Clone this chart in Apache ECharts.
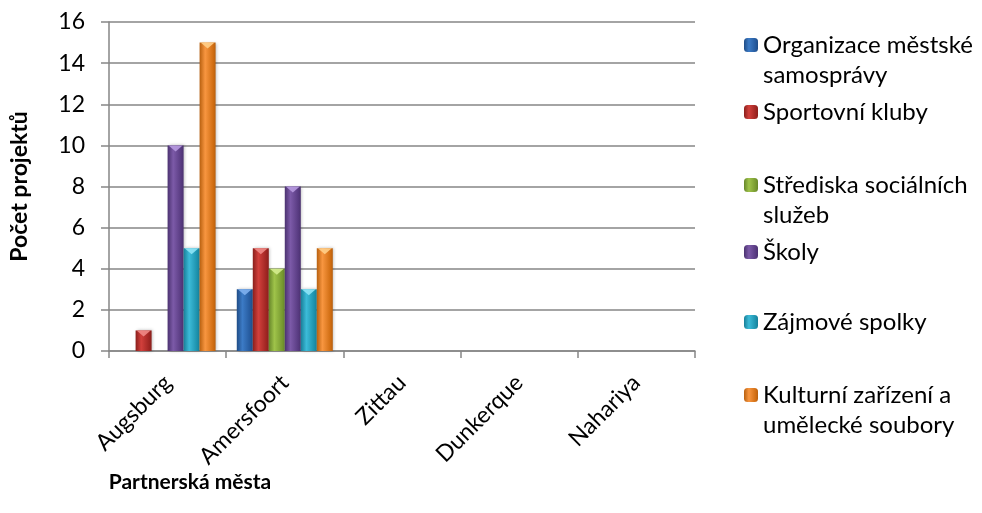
<!DOCTYPE html>
<html>
<head>
<meta charset="utf-8">
<script src="https://cdn.jsdelivr.net/npm/echarts@6/dist/echarts.min.js"></script>
<style>
html,body{margin:0;padding:0;background:#fff;}
#main{width:982px;height:513px;}
</style>
</head>
<body>
<div id="main"></div>
<script>
const categories = ['Augsburg', 'Amersfoort', 'Zittau', 'Dunkerque', 'Nahariya'];
const seriesNames = ['Organizace městské samosprávy', 'Sportovní kluby', 'Střediska sociálních služeb', 'Školy', 'Zájmové spolky', 'Kulturní zařízení a umělecké soubory'];
const legendLabels = ['Organizace městské\nsamosprávy', 'Sportovní kluby', 'Střediska sociálních\nslužeb', 'Školy', 'Zájmové spolky', 'Kulturní zařízení a\numělecké soubory'];
const organizace = [0, 3, 0, 0, 0];
const sportovni = [1, 5, 0, 0, 0];
const strediska = [0, 4, 0, 0, 0];
const skoly = [10, 8, 0, 0, 0];
const zajmove = [5, 3, 0, 0, 0];
const kulturni = [15, 5, 0, 0, 0];
const yTicks = [0, 2, 4, 6, 8, 10, 12, 14, 16];
const seriesData = [organizace, sportovni, strediska, skoly, zajmove, kulturni];

const palette = [
  ['#1f4c86', '#3c7bc6', '#24589b', '#7fb0ee'],
  ['#8a1f1c', '#d2403c', '#9e2522', '#f08a86'],
  ['#66862a', '#9fc34a', '#76982f', '#d4ec8e'],
  ['#4b3270', '#7c5aa8', '#573a80', '#b79ae0'],
  ['#187f98', '#3cbbd8', '#1c90ab', '#8fe4f6'],
  ['#b8600f', '#f89640', '#d06d12', '#ffcf8a']
];
function grad(c) {
  return new echarts.graphic.LinearGradient(0, 0, 1, 0, [
    {offset: 0, color: c[0]},
    {offset: 0.35, color: c[1]},
    {offset: 0.85, color: c[2]},
    {offset: 1, color: c[0]}
  ]);
}

const font = 'Lato, "Open Sans", sans-serif';
const iconCenters = [45, 112, 185, 252, 322, 395];
const BAR_W = 16;

const legends = seriesNames.map((n, i) => {
  const twoLine = legendLabels[i].indexOf('\n') >= 0;
  return {
    data: [n],
    left: 744,
    top: iconCenters[i] - (twoLine ? 45 : 15),
    orient: 'vertical',
    padding: 0,
    itemWidth: 14,
    itemHeight: 14,
    formatter: () => (twoLine ? '\n' : '') + legendLabels[i],
    textStyle: {fontFamily: font, fontSize: 24, color: '#000', lineHeight: 30}
  };
});

const barSeries = seriesNames.map((n, i) => ({
  name: n,
  type: 'bar',
  data: seriesData[i],
  barWidth: BAR_W,
  barGap: '0%',
  itemStyle: {
    color: grad(palette[i]),
    shadowColor: 'rgba(0,0,0,0.25)', shadowBlur: 3, shadowOffsetX: 1
  }
}));

const bevelSeries = seriesNames.map((n, i) => ({
  name: n,
  type: 'custom',
  data: seriesData[i].map((v, k) => [k, v]),
  z: 5,
  silent: true,
  renderItem: (params, api) => {
    const v = api.value(1);
    if (!v) return null;
    const p = api.coord([api.value(0), v]);
    const left = p[0] - (seriesNames.length * BAR_W) / 2 + i * BAR_W;
    return {
      type: 'polygon',
      shape: {points: [[left + 1, p[1]], [left + BAR_W - 1, p[1]], [left + BAR_W / 2, p[1] + 6]]},
      style: {fill: palette[i][3], opacity: 0.9}
    };
  }
}));

const chart = echarts.init(document.getElementById('main'), null, {renderer: 'canvas'});
chart.setOption({
  animation: false,
  backgroundColor: '#fff',
  textStyle: {fontFamily: font},
  legend: legends,
  grid: {left: 108, right: 287, top: 22, bottom: 162, containLabel: false},
  xAxis: {
    type: 'category',
    data: categories,
    name: 'Partnerská města',
    nameLocation: 'middle',
    nameGap: 121,
    nameMoveOverlap: false,
    nameTextStyle: {fontFamily: font, fontSize: 21, fontWeight: 'bold', color: '#000', padding: [0, 424, 0, 0]},
    axisLine: {lineStyle: {color: '#868686', width: 1.5}},
    axisTick: {show: true, length: 7, lineStyle: {color: '#868686', width: 1.5}},
    axisLabel: {rotate: 45, margin: 28, fontFamily: font, fontSize: 23, color: '#000'}
  },
  yAxis: {
    type: 'value',
    min: yTicks[0],
    max: yTicks[yTicks.length - 1],
    interval: 2,
    name: 'Počet projektů',
    nameLocation: 'middle',
    nameGap: 78,
    nameMoveOverlap: false,
    nameTextStyle: {fontFamily: font, fontSize: 23, fontWeight: 'bold', color: '#000'},
    axisLine: {show: true, lineStyle: {color: '#868686', width: 1.5}},
    axisTick: {show: true, length: 8, lineStyle: {color: '#868686', width: 1.5}},
    axisLabel: {margin: 24, fontFamily: font, fontSize: 23, color: '#000'},
    splitLine: {lineStyle: {color: '#868686', width: 1.5}}
  },
  series: barSeries.concat(bevelSeries)
});
</script>
</body>
</html>
